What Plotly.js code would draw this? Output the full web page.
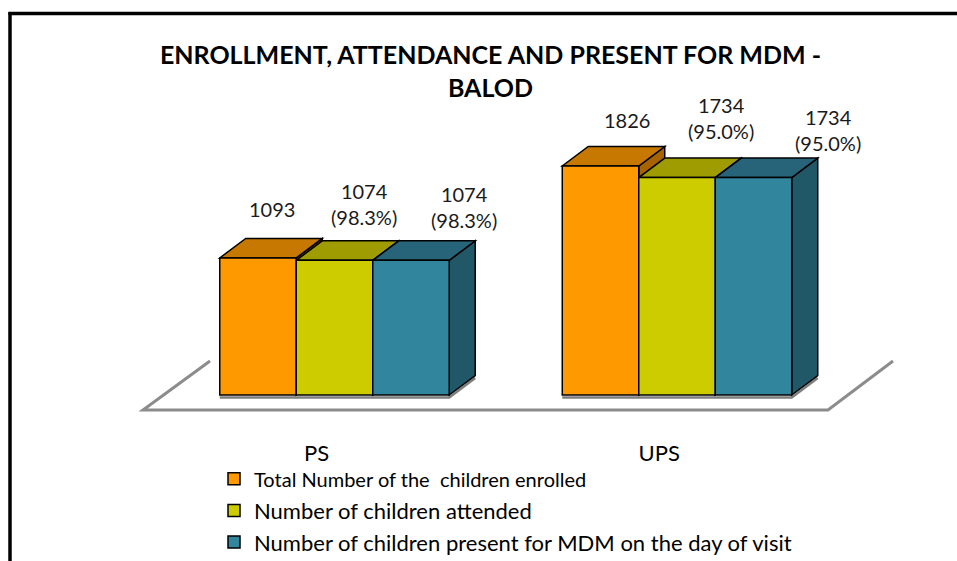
<!DOCTYPE html>
<html>
<head>
<meta charset="utf-8">
<script src="https://cdn.plot.ly/plotly-3.0.1.min.js"></script>
<style>html,body{margin:0;padding:0;background:#fff;overflow:hidden;}#chart{width:957px;height:561px;}</style>
</head>
<body>
<div id="chart"></div>
<script>
// ---- data ----
const categories = ['PS', 'UPS'];
const seriesNames = [
  'Total Number of the  children enrolled',
  'Number of children attended',
  'Number of children present for MDM on the day of visit'
];
const enrolled = [1093, 1826];
const attended = [1074, 1734];
const presentMDM = [1074, 1734];
const attendedPct = ['98.3%', '95.0%'];
const presentPct = ['98.3%', '95.0%'];
const chartTitle = 'ENROLLMENT, ATTENDANCE AND PRESENT FOR MDM -';
const chartSubtitle = 'BALOD';

// ---- styling / geometry ----
const W = 957, H = 561;
const FONT = 'Lato, Carlito, Calibri, sans-serif';
const frontCol = ['#FF9900', '#CCCC00', '#31859C'];
const topCol = ['#C67800', '#9E9C00', '#276479'];
const sideCol = ['#A66300', '#858500', '#215868'];
const x0px = 334.5, unitPx = 342.5;      // pixel of category 0, px per category
const basePx = 395, kPx = 0.1254;         // baseline pixel, px per value unit
const px2x = p => (p - x0px) / unitPx;
const px2y = p => (basePx - p) / kPx;
const bargap = 0.33;
const nS = 3;
const bw = (1 - bargap) / nS;
const dX = 26 / unitPx, dY = 19.5 / kPx;

const series = [enrolled, attended, presentMDM];
const pcts = [null, attendedPct, presentPct];

const traces = series.map((vals, j) => ({
  type: 'bar',
  name: j === 0 ? '<span style="font-size:20px">' + seriesNames[j] + '</span>' : seriesNames[j],
  x: categories.map((c, i) => i),
  y: vals,
  marker: {color: frontCol[j], line: {color: '#000', width: 1.5}},
  hoverinfo: 'skip'
}));

const shapes = [];
// floor outline
const floorPts = [[210, 361], [143, 410], [828, 410], [893, 361]];
shapes.push({
  type: 'path', xref: 'x', yref: 'y', layer: 'below',
  path: floorPts.map((p, k) => (k ? 'L' : 'M') + px2x(p[0]) + ',' + px2y(p[1])).join(' '),
  line: {color: '#8C8C8C', width: 3}
});
// shadow under each bar group + 3D faces
categories.forEach((c, i) => {
  const gL = i - (nS / 2) * bw, gR = i + (nS / 2) * bw;
  shapes.push({
    type: 'path', xref: 'x', yref: 'y', layer: 'below',
    path: `M${gL},${-2.5 / kPx} L${gR},${-2.5 / kPx} L${gR + dX},${dY - 2.5 / kPx}`,
    line: {color: '#7F7F7F', width: 2.5}
  });
  series.forEach((vals, j) => {
    const v = vals[i];
    const L = i - (nS / 2) * bw + j * bw, R = L + bw;
    shapes.push({
      type: 'path', xref: 'x', yref: 'y', layer: 'below',
      path: `M${R},0 L${R + dX},${dY} L${R + dX},${v + dY} L${R},${v} Z`,
      fillcolor: sideCol[j], line: {color: '#000', width: 1.5}
    });
    shapes.push({
      type: 'path', xref: 'x', yref: 'y', layer: 'below',
      path: `M${L},${v} L${R},${v} L${R + dX},${v + dY} L${L + dX},${v + dY} Z`,
      fillcolor: topCol[j], line: {color: '#000', width: 1.5}
    });
  });
});
// frame of the page
shapes.push({type: 'line', xref: 'paper', yref: 'paper', x0: 10 / W, x1: 10 / W, y0: 1 - 12 / H, y1: 0, line: {color: '#000', width: 3.5}});
shapes.push({type: 'line', xref: 'paper', yref: 'paper', x0: 8.5 / W, x1: 1, y0: 1 - 13.5 / H, y1: 1 - 13.5 / H, line: {color: '#000', width: 3.5}});

// data labels (offsets from bar front-top centre, px)
const labelOff = [
  [[13.5, -49], [29, -56], [53, -53]],
  [[26, -46], [43.5, -60], [74.5, -48]]
];
const annotations = [];
categories.forEach((c, i) => {
  series.forEach((vals, j) => {
    const v = vals[i];
    const cx = i - (nS / 2) * bw + (j + 0.5) * bw;
    const off = labelOff[i][j];
    annotations.push({
      xref: 'x', yref: 'y',
      x: cx + off[0] / unitPx, y: v - off[1] / kPx,
      text: pcts[j] ? v + '<br>(' + pcts[j][i] + ')' : String(v),
      showarrow: false, xanchor: 'center', yanchor: 'middle',
      font: {family: FONT, size: 20, color: '#1a1a1a'}
    });
  });
});

const layout = {
  width: W, height: H,
  margin: {l: 0, r: 0, t: 0, b: 0, autoexpand: false},
  paper_bgcolor: '#fff', plot_bgcolor: 'rgba(0,0,0,0)',
  barmode: 'group', bargap: bargap, bargroupgap: 0,
  title: {
    text: chartTitle + '<br>' + chartSubtitle,
    x: 490.5 / W, xanchor: 'center', xref: 'paper',
    y: 1 - 64 / H, yref: 'paper', yanchor: 'middle',
    font: {family: FONT, size: 25, weight: 'bold', color: '#000'}
  },
  xaxis: {
    type: 'linear', range: [px2x(0), px2x(W)],
    tickvals: categories.map((c, i) => i - 0.052), ticktext: categories,
    showgrid: false, zeroline: false, showline: false, ticks: '',
    anchor: 'free', position: 1 - 438 / H, automargin: false,
    tickfont: {family: FONT, size: 22, color: '#000'}, fixedrange: true
  },
  yaxis: {range: [px2y(H), px2y(0)], visible: false, fixedrange: true},
  showlegend: true,
  legend: {
    x: 214 / W, y: 1 - 458 / H, xanchor: 'left', yanchor: 'top',
    bgcolor: 'rgba(0,0,0,0)', font: {family: FONT, size: 22, color: '#000'},
    traceorder: 'normal', itemclick: false, itemdoubleclick: false
  },
  shapes: shapes,
  annotations: annotations
};

Plotly.newPlot('chart', traces, layout, {displayModeBar: false, staticPlot: true});
</script>
</body>
</html>
